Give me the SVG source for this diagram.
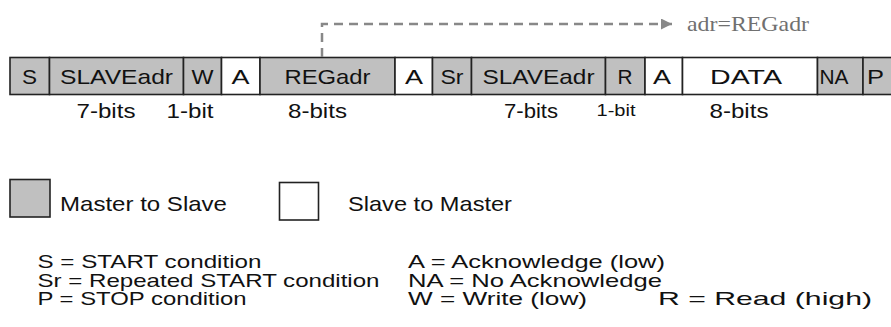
<svg xmlns="http://www.w3.org/2000/svg" width="891" height="327" viewBox="0 0 891 327">
<defs>
<style>
.cell{stroke:#222;stroke-width:1.6}
.m{fill:#c0c0c0}
.s{fill:#ffffff}
.t{font-family:"Liberation Sans",Arial,sans-serif;font-size:21px;fill:#111;text-anchor:middle}
.l{font-family:"Liberation Sans",Arial,sans-serif;font-size:21px;fill:#111}
.d{font-family:"Liberation Sans",Arial,sans-serif;font-size:19px;fill:#111}
.dash{fill:none;stroke:#888888;stroke-width:2.5;stroke-dasharray:9,6}
</style>
<marker id="arr" viewBox="0 0 10 10" refX="10" refY="5" markerWidth="6" markerHeight="4.4" markerUnits="strokeWidth" orient="auto"><path d="M0,0 L10,5 L0,10 z" fill="#888888"/></marker>
</defs>
<rect width="891" height="327" fill="#fff"/>
<g id="frame">
<g id="c-S"><rect class="cell m" x="10" y="57.5" width="39.5" height="37"/><text class="t" x="29.5" y="83.5" textLength="15" lengthAdjust="spacingAndGlyphs">S</text></g>
<g id="c-SLAVEadr1"><rect class="cell m" x="49.5" y="57.5" width="134" height="37"/><text class="t" x="116.5" y="83.5" textLength="113" lengthAdjust="spacingAndGlyphs">SLAVEadr</text></g>
<g id="c-W"><rect class="cell m" x="183.5" y="57.5" width="38" height="37"/><text class="t" x="202.5" y="83.5" textLength="22" lengthAdjust="spacingAndGlyphs">W</text></g>
<g id="c-A1"><rect class="cell s" x="221.5" y="57.5" width="38.5" height="37"/><text class="t" x="240.5" y="83.5" textLength="18" lengthAdjust="spacingAndGlyphs">A</text></g>
<g id="c-REGadr"><rect class="cell m" x="260" y="57.5" width="135" height="37"/><text class="t" x="327.5" y="83.5" textLength="86" lengthAdjust="spacingAndGlyphs">REGadr</text></g>
<g id="c-A2"><rect class="cell s" x="395" y="57.5" width="37.5" height="37"/><text class="t" x="414" y="83.5" textLength="18" lengthAdjust="spacingAndGlyphs">A</text></g>
<g id="c-Sr"><rect class="cell m" x="432.5" y="57.5" width="39" height="37"/><text class="t" x="452" y="83.5" textLength="23" lengthAdjust="spacingAndGlyphs">Sr</text></g>
<g id="c-SLAVEadr2"><rect class="cell m" x="471.5" y="57.5" width="134" height="37"/><text class="t" x="538.5" y="83.5" textLength="112" lengthAdjust="spacingAndGlyphs">SLAVEadr</text></g>
<g id="c-R"><rect class="cell m" x="605.5" y="57.5" width="39.5" height="37"/><text class="t" x="625" y="83.5" textLength="15" lengthAdjust="spacingAndGlyphs">R</text></g>
<g id="c-A3"><rect class="cell s" x="645" y="57.5" width="37.5" height="37"/><text class="t" x="662" y="83.5" textLength="18" lengthAdjust="spacingAndGlyphs">A</text></g>
<g id="c-DATA"><rect class="cell s" x="682.5" y="57.5" width="135" height="37"/><text class="t" x="746" y="83.5" textLength="72" lengthAdjust="spacingAndGlyphs">DATA</text></g>
<g id="c-NA"><rect class="cell m" x="817.5" y="57.5" width="45.5" height="37"/><text class="t" x="834" y="83.5" textLength="29" lengthAdjust="spacingAndGlyphs">NA</text></g>
<g id="c-P"><rect class="cell m" x="863" y="57.5" width="40" height="37"/><text class="t" x="875.5" y="83.5" textLength="17" lengthAdjust="spacingAndGlyphs">P</text></g>
</g>
<g id="bit-labels">
<text class="t" x="106" y="118" textLength="59" lengthAdjust="spacingAndGlyphs">7-bits</text>
<text class="t" x="190" y="118" textLength="47" lengthAdjust="spacingAndGlyphs">1-bit</text>
<text class="t" x="317.5" y="118" textLength="59" lengthAdjust="spacingAndGlyphs">8-bits</text>
<text class="t" x="531" y="118" textLength="54" lengthAdjust="spacingAndGlyphs">7-bits</text>
<text class="t" x="616" y="116" style="font-size:17px" textLength="39" lengthAdjust="spacingAndGlyphs">1-bit</text>
<text class="t" x="739" y="118" textLength="59" lengthAdjust="spacingAndGlyphs">8-bits</text>
</g>
<g id="connectors">
<path class="dash" d="M322,57 L322,24 L672,24" marker-end="url(#arr)"/>
</g>
<g id="note">
<text x="687" y="31" style="font-family:'Liberation Serif','Times New Roman',serif;font-size:21px;fill:#707070" textLength="122" lengthAdjust="spacingAndGlyphs">adr=REGadr</text>
</g>
<g id="legend">
<rect class="cell m" x="10" y="179.5" width="40" height="37.5"/>
<text class="l" x="60" y="211" textLength="167" lengthAdjust="spacingAndGlyphs">Master to Slave</text>
<rect class="cell s" x="279.5" y="182.5" width="39" height="37.5"/>
<text class="l" x="348" y="211" textLength="164" lengthAdjust="spacingAndGlyphs">Slave to Master</text>
</g>
<g id="definitions">
<text class="d" x="37.5" y="268" textLength="224" lengthAdjust="spacingAndGlyphs">S = START condition</text>
<text class="d" x="37.5" y="286.5" textLength="342" lengthAdjust="spacingAndGlyphs">Sr = Repeated START condition</text>
<text class="d" x="37.5" y="305" textLength="209" lengthAdjust="spacingAndGlyphs">P = STOP condition</text>
<text class="d" x="408" y="268" textLength="257" lengthAdjust="spacingAndGlyphs">A = Acknowledge (low)</text>
<text class="d" x="408" y="286.5" textLength="254" lengthAdjust="spacingAndGlyphs">NA = No Acknowledge</text>
<text class="d" x="408" y="305" textLength="179" lengthAdjust="spacingAndGlyphs">W = Write (low)</text>
<text class="d" x="658" y="305" textLength="214" lengthAdjust="spacingAndGlyphs">R = Read (high)</text>
</g>
</svg>
